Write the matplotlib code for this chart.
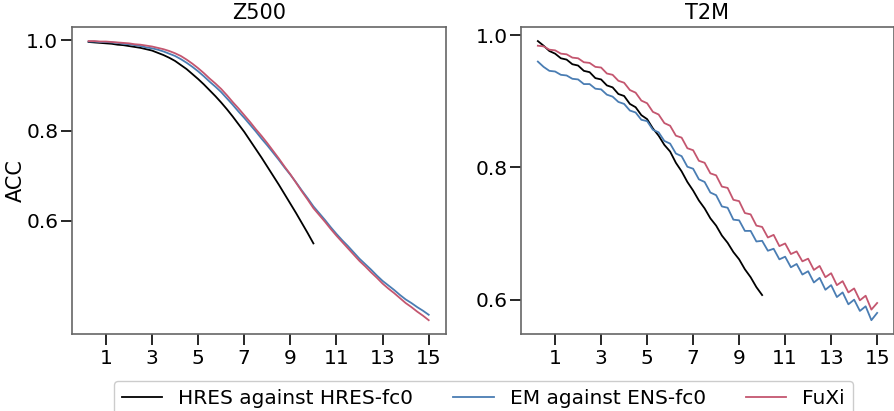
import numpy as np
import matplotlib
matplotlib.use("Agg")
import matplotlib.pyplot as plt

# lead time in days, 6-hourly steps
lead_days = np.arange(1, 61) * 0.25
hres_days = lead_days[:40]
xtick_days = [1, 3, 5, 7, 9, 11, 13, 15]

z500_hres = [
    .996, .995, .994, .993, .992, .990, .989, .987, .985, .983,
    .980, .977, .972, .967, .961, .954, .945, .936, .925, .914,
    .902, .889, .876, .862, .847, .831, .814, .797, .778, .759,
    .740, .720, .700, .680, .659, .638, .617, .595, .573, .550,
]
z500_em = [
    .997, .997, .996, .996, .995, .994, .992, .991, .989, .987,
    .984, .982, .979, .975, .970, .965, .958, .950, .941, .931,
    .920, .908, .897, .885, .871, .857, .842, .828, .813, .798,
    .782, .767, .751, .735, .718, .702, .685, .667, .650, .632,
    .617, .602, .586, .571, .557, .544, .530, .516, .504, .492,
    .479, .467, .457, .447, .436, .426, .418, .409, .401, .392,
]
z500_fuxi = [
    .998, .998, .997, .997, .996, .995, .994, .993, .991, .990,
    .988, .986, .983, .980, .976, .971, .965, .957, .948, .938,
    .927, .915, .904, .892, .878, .863, .849, .834, .819, .803,
    .788, .772, .755, .738, .720, .703, .684, .665, .647, .628,
    .613, .598, .582, .567, .553, .539, .525, .511, .499, .486,
    .474, .461, .450, .440, .429, .418, .409, .399, .390, .380,
]

t2m_hres = [
    .991, .984, .976, .972, .965, .963, .956, .954, .946, .944,
    .935, .933, .924, .921, .911, .908, .896, .891, .879, .873,
    .859, .848, .834, .824, .807, .794, .778, .765, .750, .738,
    .723, .712, .697, .686, .672, .661, .646, .634, .619, .607,
]
t2m_em = [
    .960, .952, .946, .945, .940, .939, .934, .933, .926, .926,
    .919, .918, .910, .907, .899, .896, .886, .883, .872, .870,
    .857, .853, .840, .836, .821, .817, .801, .798, .782, .778,
    .762, .758, .741, .739, .721, .720, .704, .704, .688, .689,
    .674, .677, .661, .665, .649, .654, .638, .643, .626, .633,
    .615, .622, .604, .611, .593, .600, .583, .590, .569, .580,
]
t2m_fuxi = [
    .984, .983, .978, .977, .972, .971, .966, .965, .959, .958,
    .952, .951, .942, .940, .931, .928, .917, .913, .901, .897,
    .884, .880, .867, .863, .848, .845, .829, .826, .810, .807,
    .791, .788, .771, .769, .751, .749, .731, .729, .712, .710,
    .694, .698, .681, .685, .669, .673, .658, .662, .645, .651,
    .634, .640, .622, .628, .611, .617, .599, .606, .585, .595,
]

labels = ["HRES against HRES-fc0", "EM against ENS-fc0", "FuXi"]
colors = ["black", "#4a7db3", "#c4566f"]

FS = 14.5
plt.rcParams["font.family"] = ["DejaVu Sans"]
plt.rcParams["font.size"] = FS

fig = plt.figure(figsize=(8.95, 4.11), dpi=100)
ax_z = fig.add_axes([0.080, 0.187, 0.418, 0.747])
ax_t = fig.add_axes([0.582, 0.187, 0.417, 0.747])

panels = [
    (ax_z, "Z500", [z500_hres, z500_em, z500_fuxi]),
    (ax_t, "T2M", [t2m_hres, t2m_em, t2m_fuxi]),
]

for ax, title, series in panels:
    ax.plot(hres_days, series[0], color=colors[0], lw=1.3, label=labels[0])
    ax.plot(lead_days, series[1], color=colors[1], lw=1.3, label=labels[1])
    ax.plot(lead_days, series[2], color=colors[2], lw=1.3, label=labels[2])
    ax.set_title(title, fontsize=15, pad=6)
    ax.set_xticks(xtick_days)
    ax.set_yticks([0.6, 0.8, 1.0])
    ax.tick_params(axis="both", labelsize=FS, length=8, width=1.4, color="0.15")
    ax.tick_params(axis="y", pad=1.5)
    ax.tick_params(axis="x", pad=3)
    for sp in ax.spines.values():
        sp.set_color("0.4")
        sp.set_linewidth(1.2)

ax_z.set_ylabel("ACC", fontsize=15)
ax_z.yaxis.set_label_coords(-0.123, 0.5)

handles, lbls = ax_z.get_legend_handles_labels()
fig.legend(handles, lbls, loc="upper center", bbox_to_anchor=(0.54, 0.072),
           borderaxespad=0, ncol=3, fontsize=14.5, frameon=True, framealpha=1,
           edgecolor="0.8")

fig.savefig("out.png", dpi=100)
